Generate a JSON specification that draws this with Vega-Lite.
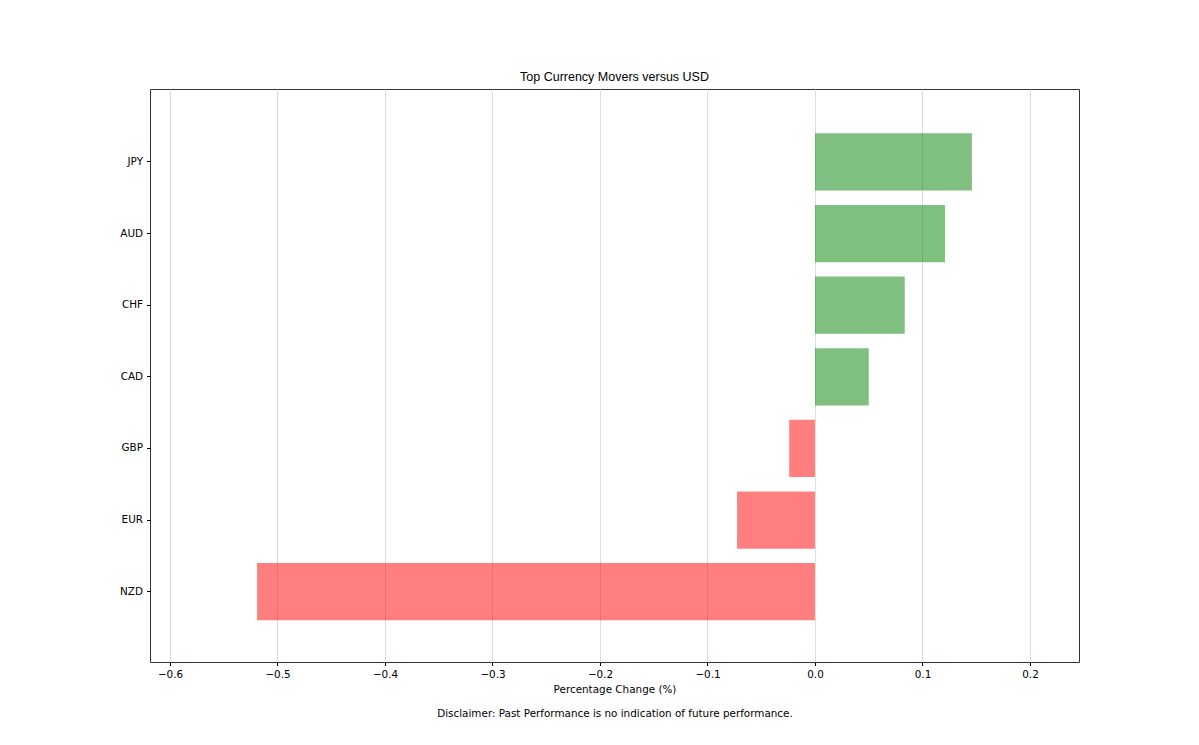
{
  "$schema": "https://vega.github.io/schema/vega-lite/v6.json",
  "autosize": {"type": "none"},
  "padding": {"left": 150, "top": 89, "right": 120, "bottom": 83},
  "width": 929,
  "height": 573,
  "background": "white",
  "title": {
    "text": "Top Currency Movers versus USD",
    "font": "Liberation Sans",
    "fontSize": 12.5,
    "fontWeight": "normal",
    "color": "#000000",
    "offset": 6,
    "anchor": "middle"
  },
  "data": {
    "values": [
      {"currency": "JPY", "change": 0.146},
      {"currency": "AUD", "change": 0.121},
      {"currency": "CHF", "change": 0.0835},
      {"currency": "CAD", "change": 0.050},
      {"currency": "GBP", "change": -0.024},
      {"currency": "EUR", "change": -0.0725},
      {"currency": "NZD", "change": -0.519}
    ]
  },
  "config": {
    "view": {"stroke": "#333333", "strokeWidth": 1},
    "axis": {
      "labelFont": "DejaVu Sans",
      "labelFontSize": 10.4,
      "labelColor": "#000000",
      "titleFont": "DejaVu Sans",
      "titleFontSize": 10.4,
      "titleFontWeight": "normal",
      "titleColor": "#000000",
      "tickColor": "#000000",
      "tickSize": 3.5,
      "domain": false
    }
  },
  "mark": {"type": "bar", "opacity": 0.5},
  "encoding": {
    "y": {
      "field": "currency",
      "type": "nominal",
      "sort": ["JPY", "AUD", "CHF", "CAD", "GBP", "EUR", "NZD"],
      "scale": {"paddingInner": 0.2, "paddingOuter": 0.6, "align": 0.515},
      "axis": {"title": null, "grid": false, "labelPadding": 4}
    },
    "x": {
      "field": "change",
      "type": "quantitative",
      "scale": {"domain": [-0.6186, 0.2456], "nice": false, "zero": false},
      "axis": {
        "values": [-0.6, -0.5, -0.4, -0.3, -0.2, -0.1, 0.0, 0.1, 0.2],
        "format": ".1f",
        "labelExpr": "replace(datum.label, '-', '\u2212')",
        "grid": true,
        "gridColor": "#dcdcdc",
        "gridWidth": 1,
        "labelPadding": 4,
        "title": ["Percentage Change (%)", "Disclaimer: Past Performance is no indication of future performance."],
        "titleLineHeight": 24,
        "titlePadding": 5
      }
    },
    "color": {
      "condition": {"test": "datum.change >= 0", "value": "#008000"},
      "value": "#ff0000"
    }
  }
}
